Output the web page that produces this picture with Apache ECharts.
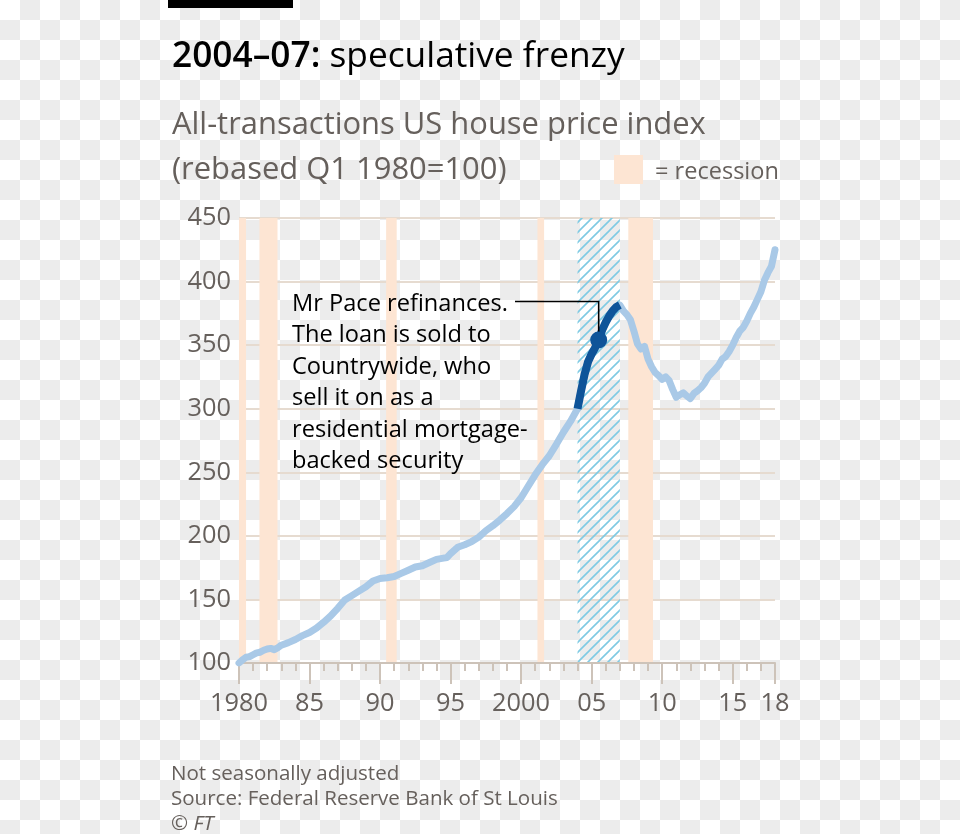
<!DOCTYPE html>
<html><head><meta charset="utf-8">
<script src="https://cdn.jsdelivr.net/npm/echarts@6/dist/echarts.min.js"></script>
<style>
html,body{margin:0;padding:0;}
body{width:960px;height:834px;background-color:#fff;background-image:conic-gradient(#ececec 25%, #ffffff 0 50%, #ececec 0 75%, #ffffff 0);background-size:40px 40px;}
#chart{width:960px;height:834px;}
</style></head><body><div id="chart"></div>
<script>
// ---- data ----
const years = [1980.0,1980.25,1980.5,1980.75,1981.0,1981.25,1981.5,1981.75,1982.0,1982.25,1982.5,1982.75,
  1983.0,1983.5,1984.0,1984.5,1985.0,1985.5,1986.0,1986.5,1987.0,1987.5,1988.0,1988.5,1989.0,1989.5,
  1990.0,1990.5,1991.0,1991.5,1992.0,1992.5,1993.0,1993.5,1994.0,1994.5,1994.75,1995.0,1995.5,1996.0,1996.5,
  1997.0,1997.5,1998.0,1998.5,1999.0,1999.5,2000.0,2000.5,2001.0,2001.5,2002.0,2002.5,2003.0,2003.5,
  2004.0,2004.25,2004.5,2004.75,2005.0,2005.25,2005.5,2005.75,2006.0,2006.25,2006.5,2006.75,2007.0,
  2007.25,2007.5,2007.75,2008.0,2008.25,2008.5,2008.75,2009.0,2009.25,2009.5,2009.75,2010.0,2010.25,2010.5,2010.75,
  2011.0,2011.25,2011.5,2011.75,2012.0,2012.25,2012.5,2012.75,2013.0,2013.25,2013.5,2013.75,2014.0,2014.25,2014.5,2014.75,
  2015.0,2015.25,2015.5,2015.75,2016.0,2016.25,2016.5,2016.75,2017.0,2017.25,2017.5,2017.75,2018.0];
const hpi = [100,102.5,104.5,105,106.5,108,108.5,110,111,111.5,110.5,112,
  114,116,118.5,121.5,124,127.5,132,137,143,149.5,153,156.5,160,164.5,
  166.5,167,168,170.5,173,175.5,176.5,179,181.5,182.5,183,186,191,193,195.5,
  199,204,208,212.5,217.5,223,230,239,248,256,263,272,281.5,290,
  300,314,327,337,343,348,354,362,368,373,377,380,381.5,
  377,374,370,361,351,347,349,339,333,328.5,326,323,325,322,315,
  309,311,312.5,310,308,312,314,316.5,320,325,328,331,334,339,341,345,
  350,356,361,364,369,375,380,386,392,401,407,412,425];
const frenzy = [2004, 2007];
const recessions = [[1980.0,1980.5],[1981.45,1982.73],[1990.43,1991.18],[2001.16,2001.63],[2007.6,2009.35]];
const refinanceYear = 2005.5;
const xTickLabels = {1980:'1980',1985:'85',1990:'90',1995:'95',2000:'2000',2005:'05',2010:'10',2015:'15',2018:'18'};

const FONT = 'Open Sans';
const GREY = '#66605c';

// font sizes fitted to the reference text widths
const mctx = document.createElement('canvas').getContext('2d');
function w100(text, weight, style){ mctx.font = (style||'normal')+' '+(weight||'normal')+' 100px "'+FONT+'"'; return mctx.measureText(text).width; }
function fit(text, target, weight, style){ return 100*target/w100(text, weight, style); }
const titleSize = 100*453/(w100('2004–07:','600')+w100(' speculative frenzy'));
const subSize = fit('All-transactions US house price index', 534);
const legSize = fit('= recession', 124);
const annSize = fit('Mr Pace refinances.', 216);
const footSize = fit('Source: Federal Reserve Bank of St Louis', 387);
const axisSize = fit('1980', 58);

function hatch(){
  const c = document.createElement('canvas'); c.width = 10; c.height = 10;
  const g = c.getContext('2d');
  g.strokeStyle = '#7fcae3'; g.lineWidth = 1.6; g.beginPath();
  g.moveTo(-2,12); g.lineTo(12,-2);
  g.moveTo(-2,2); g.lineTo(2,-2);
  g.moveTo(8,12); g.lineTo(12,8);
  g.stroke();
  return c;
}

const all = years.map((y,i)=>[y,hpi[i]]);
const dark = all.filter(p=>p[0]>=frenzy[0] && p[0]<=frenzy[1]);
const refVal = hpi[years.indexOf(refinanceYear)];

const chart = echarts.init(document.getElementById('chart'), null, {renderer:'canvas'});
const option = {
  animation:false,
  backgroundColor:'transparent',
  grid:{left:239, right:185, top:218, bottom:171, outerBoundsMode:'none', containLabel:false},
  xAxis:[{
    type:'value', min:1980, max:2018, interval:5, z:1,
    axisLine:{show:true, onZero:false, lineStyle:{color:'#cdc3b9', width:2}},
    axisTick:{show:true, length:21, lineStyle:{color:'#cdc3b9', width:2}},
    axisLabel:{show:true, margin:28, fontFamily:FONT, fontSize:axisSize, color:GREY, showMinLabel:true, showMaxLabel:true,
      formatter:v=>xTickLabels[v]!==undefined?xTickLabels[v]:''},
    splitLine:{show:false}
  },{
    type:'value', min:1980, max:2018, interval:1, position:'bottom', z:1,
    axisLine:{show:false, onZero:false},
    axisTick:{show:true, length:8, lineStyle:{color:'#cdc3b9', width:2}},
    axisLabel:{show:false}, splitLine:{show:false}
  }],
  yAxis:{
    type:'value', min:100, max:450, interval:50, z:1,
    axisLine:{show:false}, axisTick:{show:false},
    axisLabel:{margin:8, fontFamily:FONT, fontSize:axisSize, color:GREY, padding:[2,0,0,0]},
    splitLine:{show:true, lineStyle:{color:'#e6dbd0', width:2}}
  },
  series:[
    {type:'line', data:[], z:0, silent:true,
      markArea:{silent:true, itemStyle:{color:'#fde5d3'},
        data:recessions.map(r=>[{xAxis:r[0]},{xAxis:r[1]}])}},
    {type:'line', data:[], z:0, silent:true,
      markArea:{silent:true, itemStyle:{color:{image:hatch(), repeat:'repeat'}},
        data:[[{xAxis:frenzy[0]},{xAxis:frenzy[1]}]]}},
    {type:'line', data:all, z:3, symbol:'none', lineStyle:{color:'#a9c9e7', width:7, cap:'round', join:'round'}},
    {type:'line', data:dark, z:4, symbol:'none', lineStyle:{color:'#0f5499', width:8, cap:'butt', join:'round'}},
    {type:'scatter', data:[[refinanceYear, refVal]], z:6, symbolSize:17, itemStyle:{color:'#0f5499', opacity:1}}
  ]
};
chart.setOption(option);

const dp = chart.convertToPixel({gridIndex:0}, [refinanceYear, refVal]);
const annLines = ['Mr Pace refinances.','The loan is sold to','Countrywide, who','sell it on as a','residential mortgage-','backed security'];
const DY = 2;
const graphics = [
  {type:'rect', shape:{x:168,y:0,width:125,height:8}, style:{fill:'#000'}},
  {type:'text', x:172, y:55+DY, style:{text:'{b|2004–07:}{r| speculative frenzy}', verticalAlign:'middle',
    rich:{b:{fontFamily:FONT, fontWeight:600, fontSize:titleSize, fill:'#000'}, r:{fontFamily:FONT, fontSize:titleSize, fill:'#000'}}}},
  {type:'text', x:172, y:123+DY, style:{text:'All-transactions US house price index', fontFamily:FONT, fontSize:subSize, fill:GREY, verticalAlign:'middle'}},
  {type:'text', x:172, y:168+DY, style:{text:'(rebased Q1 1980=100)', fontFamily:FONT, fontSize:subSize, fill:GREY, verticalAlign:'middle'}},
  {type:'rect', shape:{x:614,y:155,width:29,height:29}, style:{fill:'#fde5d3'}},
  {type:'text', x:655, y:170+DY, style:{text:'= recession', fontFamily:FONT, fontSize:legSize, fill:GREY, verticalAlign:'middle'}},
  {type:'text', x:171, y:772+DY, style:{text:'Not seasonally adjusted', fontFamily:FONT, fontSize:footSize, fill:GREY, verticalAlign:'middle'}},
  {type:'text', x:171, y:797+DY, style:{text:'Source: Federal Reserve Bank of St Louis', fontFamily:FONT, fontSize:footSize, fill:GREY, verticalAlign:'middle'}},
  {type:'text', x:171, y:822+DY, style:{text:'© {i|FT}', fontFamily:FONT, fontSize:footSize, fill:GREY, verticalAlign:'middle',
    rich:{i:{fontFamily:FONT, fontSize:footSize, fontStyle:'italic', fill:GREY}}}},
  {type:'polyline', z:5, shape:{points:[[515,301.5],[dp[0],301.5],[dp[0],dp[1]]]}, style:{stroke:'#000', lineWidth:1.6, fill:null}}
];
annLines.forEach((t,i)=>graphics.push({type:'text', x:292, y:302+DY+i*31.5, z:5,
  style:{text:t, fontFamily:FONT, fontSize:annSize, fill:'#000', verticalAlign:'middle'}}));
chart.setOption({graphic:graphics});
</script></body></html>
